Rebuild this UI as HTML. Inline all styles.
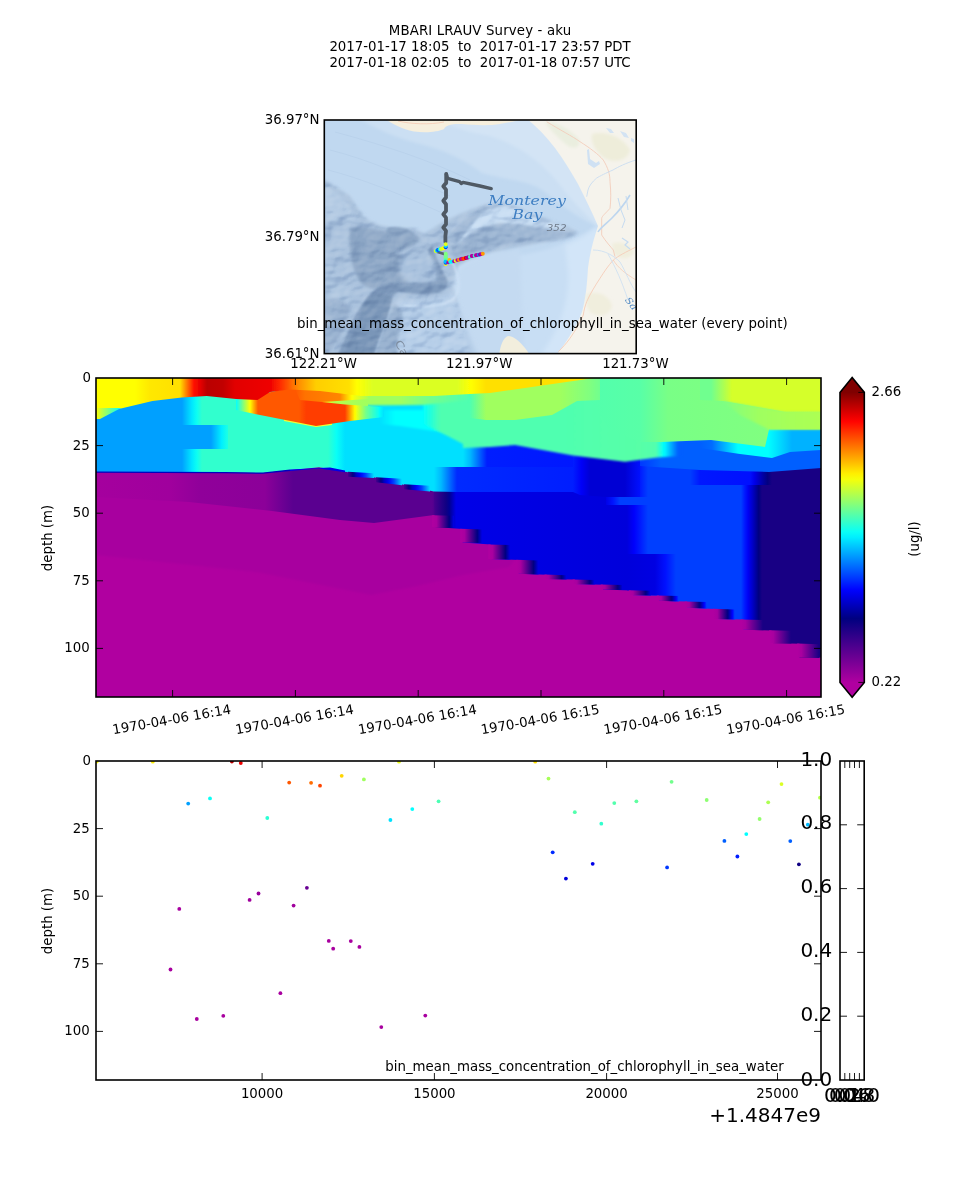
<!DOCTYPE html>
<html><head><meta charset="utf-8"><title>MBARI LRAUV Survey - aku</title>
<style>
html,body{margin:0;padding:0;background:#fff;overflow:hidden;}
svg{display:block;}
text{font-family:'DejaVu Sans','Liberation Sans',sans-serif;fill:#000;opacity:0.999;}
</style></head>
<body>
<svg width="960" height="1200" viewBox="0 0 960 1200">
<rect width="960" height="1200" fill="#ffffff"/>
<text x="480" y="35" font-size="13.33" text-anchor="middle" letter-spacing="0.14">MBARI LRAUV Survey - aku</text>
<text x="480" y="51" font-size="13.33" text-anchor="middle" xml:space="preserve" style="white-space:pre">2017-01-17 18:05  to  2017-01-17 23:57 PDT</text>
<text x="480" y="67" font-size="13.33" text-anchor="middle" xml:space="preserve" style="white-space:pre">2017-01-18 02:05  to  2017-01-18 07:57 UTC</text>
<defs>
<clipPath id="mapclip"><rect x="324.3" y="120.0" width="311.90000000000003" height="233.60000000000002"/></clipPath>
<filter id="b05" x="-30%" y="-30%" width="160%" height="160%"><feGaussianBlur stdDeviation="0.6"/></filter>
<filter id="b1" x="-30%" y="-30%" width="160%" height="160%"><feGaussianBlur stdDeviation="1"/></filter>
<filter id="b15" x="-30%" y="-30%" width="160%" height="160%"><feGaussianBlur stdDeviation="1.5"/></filter>
<filter id="b2" x="-30%" y="-30%" width="160%" height="160%"><feGaussianBlur stdDeviation="2"/></filter>
<filter id="b3" x="-30%" y="-30%" width="160%" height="160%"><feGaussianBlur stdDeviation="3.5"/></filter>
<filter id="b6" x="-30%" y="-30%" width="160%" height="160%"><feGaussianBlur stdDeviation="6"/></filter>
</defs>
<g clip-path="url(#mapclip)">
<rect x="324.3" y="120.0" width="311.90000000000003" height="233.60000000000002" fill="#c0d8f0"/>
<path d="M358,118 C375,128 395,138 420,144 C445,150 465,160 482,173 C505,180 530,180 545,192 C560,204 580,220 598,226 L640,226 L640,118 Z" fill="#cbdff3" filter="url(#b15)"/>
<path d="M440,118 C450,128 470,132 490,136 C520,145 545,165 560,185 C575,205 590,218 598,226 L640,226 L640,118 Z" fill="#d3e4f5" filter="url(#b15)"/>
<path d="M452,262 C470,258 500,256 520,255 C545,252 570,243 598,226 L640,226 L640,356 L452,356 Z" fill="#c8def4" filter="url(#b15)"/>
<path d="M565,245 C580,240 590,232 598,226 L600,356 L540,356 C560,330 570,300 568,270 Z" fill="#d2e5f8" filter="url(#b2)"/>
<mask id="termask" maskUnits="userSpaceOnUse" x="320" y="116" width="320" height="242"><path d="M322,179 L336,187 L349,195 L356,205 L362.3,215 L370,221 L379,225 L395.7,228.3 L414,228.3 L424,233.3 L430.7,230 L440.7,223.3 L457.3,215 L474,208.3 L490,203 L505,203 L520,208 L536,216 L552,222 L566,226 L578,232 L570,238 L556,241 L540,243 L520,247 L500,251 L484,255 L470,260 L458,266 L455,290 L462,320 L470,356 L322,356 Z" fill="#fff" filter="url(#b2)"/><path d="M452,262 L640,262 L640,356 L476,356 Z" fill="#000" filter="url(#b3)"/></mask>
<path d="M322,179 L336,187 L349,195 L356,205 L362.3,215 L370,221 L379,225 L395.7,228.3 L414,228.3 L424,233.3 L430.7,230 L440.7,223.3 L457.3,215 L474,208.3 L490,203 L505,203 L520,208 L536,216 L552,222 L566,226 L578,232 L570,238 L556,241 L540,243 L520,247 L500,251 L484,255 L470,260 L458,266 L455,290 L462,320 L470,356 L322,356 Z" fill="#aac2dd" filter="url(#b15)"/>
<path d="M452,284 C456,270 466,262 480,257 C492,254 505,252 520,249 L524,356 L476,356 C470,330 458,305 452,284 Z" fill="#c4daf1" filter="url(#b2)"/>
<path d="M398,300 C420,300 440,300 454,290 C460,312 470,335 478,356 L366,356 C376,338 386,318 398,300 Z" fill="#b6cee8" filter="url(#b2)"/>
<path d="M324,184 C338,192 350,204 356,218 C350,226 336,224 324,218 Z" fill="#b3cae3" filter="url(#b15)"/>
<path d="M324,262 C336,266 346,276 352,290 C352,310 340,326 324,336 Z" fill="#adc5df" filter="url(#b2)"/>
<path d="M350,228 C362,226 378,230 392,232 C402,230 414,232 420,238 C416,246 404,250 394,252 C402,256 412,258 416,264 C414,276 406,286 396,290 C384,292 372,290 362,284 C352,272 348,250 350,228 Z" fill="#8ca6c5" filter="url(#b15)"/>
<path d="M388,228 C398,226 410,228 414,234 C410,244 398,250 388,248 C384,242 384,234 388,228 Z" fill="#8ca6c5" filter="url(#b1)"/>
<path d="M450,252 C462,238 480,226 500,222 C520,222 540,228 560,231 C566,232 572,232 576,233 C560,240 540,241 520,243 C500,246 480,250 466,256 C458,260 452,258 450,252 Z" fill="#9db6d3" filter="url(#b15)"/>
<path d="M447,240 C452,232 462,224 474,218 C468,230 460,244 454,252 Z" fill="#9ab3d0" filter="url(#b1)"/>
<path d="M449,244 L458,232 L470,224 L487,210 L505,206 L520,210 L536,217 L552,223 L566,227 L560,229 L540,227 L520,224 L500,223 L484,226 L470,233 L458,243 Z" fill="#c9def3" filter="url(#b15)"/>
<path d="M446,240 C452,230 464,220 487,204 C478,218 466,232 456,246 Z" fill="#9fb8d5" filter="url(#b1)"/>
<path d="M432,246 C436,256 440,268 447,279 C449,285 446,290 440,292 C428,296 412,294 399,292 C394,294 392,298 389,303 C386,316 382,330 378,342 C376,350 374,354 374,358 L336,358 C342,346 348,332 354,318 C362,304 370,290 384,284 C400,280 420,284 436,280 C434,270 430,258 428,250 Z" fill="#839ebf" filter="url(#b1)"/>
<path d="M367,298 C375,292 386,292 392,298 C390,312 384,328 378,342 L372,358 L342,358 C350,340 360,316 367,298 Z" fill="#7a96b8" filter="url(#b1)"/>
<path d="M374,358 C378,340 386,320 394,304 C400,306 404,312 402,322 C398,336 396,348 398,358 Z" fill="#9ab3d0" filter="url(#b15)"/>
<path d="M404,256 C414,250 426,252 432,258 C437,264 440,272 436,280 C428,284 418,280 410,282 C402,280 398,272 400,266 C399,262 400,258 404,256 Z" fill="#a8c1dd" filter="url(#b2)"/>
<path d="M324,300 C336,296 346,300 350,310 C346,328 336,344 326,356 L324,356 Z" fill="#9bb4d1" filter="url(#b15)"/>
<path d="M452,262 C460,276 462,292 452,300 C440,308 420,306 404,306" fill="none" stroke="#cfe2f6" stroke-width="2" filter="url(#b1)" opacity="0.9"/>
<filter id="relief" x="0" y="0" width="100%" height="100%" color-interpolation-filters="sRGB"><feTurbulence type="fractalNoise" baseFrequency="0.035 0.05" numOctaves="3" seed="11" result="n"/><feColorMatrix in="n" type="matrix" values="0 0 0 0 0  0 0 0 0 0  0 0 0 0 0  1 0 0 0 0" result="h"/><feDiffuseLighting in="h" surfaceScale="5" diffuseConstant="1" lighting-color="#ffffff" result="l"><feDistantLight azimuth="225" elevation="42"/></feDiffuseLighting><feColorMatrix in="l" type="matrix" values="0.9 0 0 0 0.42  0 0.72 0 0 0.54  0 0 0.46 0 0.71  0 0 0 1 0"/></filter>
<g mask="url(#termask)" style="mix-blend-mode:multiply;opacity:0.42"><rect x="324.3" y="170" width="280" height="186" filter="url(#relief)"/></g>
<filter id="relief2" x="0" y="0" width="100%" height="100%" color-interpolation-filters="sRGB"><feTurbulence type="fractalNoise" baseFrequency="0.035 0.05" numOctaves="3" seed="11" result="n"/><feColorMatrix in="n" type="matrix" values="0 0 0 0 0  0 0 0 0 0  0 0 0 0 0  1 0 0 0 0" result="h"/><feDiffuseLighting in="h" surfaceScale="5" diffuseConstant="1" lighting-color="#ffffff" result="l"><feDistantLight azimuth="225" elevation="42"/></feDiffuseLighting><feColorMatrix in="l" type="matrix" values="1.6 0 0 0 -1.1  0 1.6 0 0 -1.1  0 0 1.5 0 -1.0  0 0 0 1 0"/></filter>
<g mask="url(#termask)" style="mix-blend-mode:screen;opacity:0.3"><rect x="324.3" y="170" width="280" height="186" filter="url(#relief2)"/></g>
<path d="M384,118 C392,124 402,129 414,131.5 C426,133 438,132 444,129 C446,125 452,123.5 462,124 C474,125 488,126 500,124 C512,122 520,120 528,118 Z" fill="#f6efdd" filter="url(#b05)"/>
<path d="M398,121 C410,124 430,125 444,122" fill="none" stroke="#f5c9b3" stroke-width="0.8"/>
<path d="M526,118 C536,126 546,136 555,148 C564,160 571,172 578,184 C585,198 592,212 598,226 C594,238 590,252 588,268 C587,284 586,298 582,312 C576,328 566,342 556,356 L640,356 L640,118 Z" fill="#f5f3ec" filter="url(#b05)"/>
<path d="M545,122 C556,122 568,128 578,138 C582,146 576,150 568,146 C558,138 550,130 545,122 Z" fill="#eaeedf" filter="url(#b15)"/>
<path d="M592,134 C606,130 624,138 630,150 C628,160 616,164 604,158 C596,152 590,142 592,134 Z" fill="#eeedda" filter="url(#b15)"/>
<path d="M587,294 C598,290 610,296 612,306 C610,316 598,318 590,312 C586,306 585,300 587,294 Z" fill="#f0eedd" filter="url(#b15)"/>
<path d="M612,244 C620,240 630,244 634,252 C630,260 620,260 614,254 Z" fill="#f0eedd" filter="url(#b15)"/>
<path d="M587,150 l2,-1 l1,10 l6,4 l3,-2 l1,3 l-6,4 l-6,-4 z" fill="#cfe1f3" filter="url(#b05)"/>
<path d="M606,128 l5,1 l3,4 l-4,0 z M620,131 l6,2 l3,5 l-5,-1 z M631,138 l3,1 l0,4 l-3,-2 z" fill="#d3e3f3" filter="url(#b05)"/>
<path d="M499,356 C500,346 503,338 508,336 C514,336 520,342 525,348 C528,352 530,355 531,356 Z" fill="#f2eedd" filter="url(#b05)"/>
<path d="M546.7,121.7 C560,130 572,136 580,141.7 C590,148 598,154 603.3,160 C608,168 610,174 610,181.7 C611,192 611,200 610,208.3 C606,213 602,216 601.7,218.3 L601.7,235 C606,242 611,247 613.3,250 L615,256.7" fill="none" stroke="#f3cdbb" stroke-width="0.9"/>
<path d="M636,247 C626,252 618,256 613.3,260 C608,266 604,272 600,278.3 C595,286 590,294 586.7,301.7 C585,306 584,310 583.3,315 C580,323 575,331 570,338.3 C566,344 562,348 558.3,351.7" fill="none" stroke="#f5cdb9" stroke-width="0.9"/>
<path d="M613.3,260 C618,268 626,274 636,280" fill="none" stroke="#f5cdb9" stroke-width="0.8"/>
<path d="M636,160 C626,163 618,167 613,170 C606,173 600,176 596.7,178 C592,182 589,186 588,190 L586.7,196.7" fill="none" stroke="#c9dcf0" stroke-width="0.9"/>
<path d="M630,195 C624,205 620,210 612,218 C606,224 600,228 598,232" fill="none" stroke="#bdd6ef" stroke-width="1.6"/>
<path d="M618,198 l3,12 l4,10 l-3,8 M626,196 l2,14" fill="none" stroke="#c5dbf1" stroke-width="1"/>
<path d="M593,250 C605,250 614,256 620,262 C626,272 630,284 636,292 M608,254 C616,268 622,282 628,300" fill="none" stroke="#cadef2" stroke-width="0.8"/>
<path d="M622,238 l6,4 l-3,3 l5,4" fill="none" stroke="#c5dbf1" stroke-width="1.2"/>
<path d="M330,150 C370,160 410,178 450,196 M335,132 C380,144 430,160 470,180 M328,170 C360,178 400,194 440,212" fill="none" stroke="#b4cde8" stroke-width="0.8" opacity="0.7"/>
<text transform="translate(527 204.8) scale(1.26 1)" x="0" y="0" font-size="12.6" text-anchor="middle" style="font-family:'DejaVu Serif','Liberation Serif',serif;font-style:italic;fill:#2f74bd;opacity:0.9">Monterey</text>
<text transform="translate(527.4 218.9) scale(1.26 1)" x="0" y="0" font-size="12.6" text-anchor="middle" style="font-family:'DejaVu Serif','Liberation Serif',serif;font-style:italic;fill:#2f74bd;opacity:0.9">Bay</text>
<text transform="translate(556.6 231.4) scale(1.3 1)" x="0" y="0" font-size="8" text-anchor="middle" style="font-family:'DejaVu Sans',sans-serif;font-style:italic;fill:#66707e;opacity:0.9">352</text>
<text transform="translate(394.5 342.5) rotate(62) scale(1.25 1)" x="0" y="0" font-size="10.5" style="font-family:'DejaVu Sans',sans-serif;fill:#7b899b;opacity:0.9">Ca</text>
<text transform="translate(624.5 300) rotate(52) scale(1.2 1)" x="0" y="0" font-size="9" style="font-family:'DejaVu Serif','Liberation Serif',serif;font-style:italic;fill:#2f74bd;opacity:0.8">Sa</text>
<path d="M446.2,174 L446.2,183 L446,183.0 L443.3,186.2 L446,189.6 L446,197.60000000000002 L443.3,200.8 L446,204.20000000000002 L446,211.0 L443.3,214.2 L446,217.6 L446,224.3 L443.3,227.5 L446,230.9 L445.4,236 L445.4,242" fill="none" stroke="#4f5964" stroke-width="3.8" stroke-linejoin="round" stroke-linecap="round"/>
<path d="M446.4,174.2 L447.6,178.4 L459.5,181.6 L461.2,183.4 L463,182.4 L480,186 L491.2,188.6" fill="none" stroke="#4f5964" stroke-width="3.4" stroke-linejoin="round" stroke-linecap="round"/>
<path d="M437,251.8 L444,254" fill="none" stroke="#5a6470" stroke-width="2.6" stroke-linecap="round"/>
<circle cx="435.7" cy="251.1" r="1.95" fill="#d8ff28"/>
<circle cx="437.0" cy="250.5" r="1.95" fill="#00d0ff"/>
<circle cx="438.0" cy="250.0" r="1.95" fill="#0050ff"/>
<circle cx="439.7" cy="249.3" r="1.95" fill="#00f0ff"/>
<circle cx="441.0" cy="249.0" r="1.95" fill="#d0ff30"/>
<circle cx="443.0" cy="248.4" r="1.95" fill="#f0ff10"/>
<circle cx="444.0" cy="248.0" r="1.95" fill="#ffff00"/>
<circle cx="445.7" cy="247.2" r="1.95" fill="#0040ff"/>
<circle cx="445.7" cy="246.1" r="1.95" fill="#00e0ff"/>
<circle cx="445.7" cy="244.3" r="1.95" fill="#e0ff20"/>
<circle cx="445.7" cy="253.7" r="1.95" fill="#80ff80"/>
<circle cx="445.7" cy="254.9" r="1.95" fill="#80ff80"/>
<circle cx="445.7" cy="256.0" r="1.95" fill="#80ff80"/>
<circle cx="445.7" cy="257.2" r="1.95" fill="#70ff90"/>
<circle cx="445.7" cy="258.3" r="1.95" fill="#80ff80"/>
<circle cx="445.7" cy="259.5" r="1.95" fill="#60ffa0"/>
<circle cx="445.7" cy="260.7" r="1.95" fill="#40ffc0"/>
<circle cx="445.7" cy="264.0" r="1.95" fill="#ffff00"/>
<circle cx="445.7" cy="262.7" r="1.95" fill="#0030ff"/>
<circle cx="445.5" cy="261.7" r="1.95" fill="#00c0ff"/>
<circle cx="448.3" cy="262.3" r="1.95" fill="#b000a0"/>
<circle cx="449.3" cy="260.0" r="1.95" fill="#ffc000"/>
<circle cx="450.3" cy="261.9" r="1.95" fill="#00ffff"/>
<circle cx="452.3" cy="261.6" r="1.95" fill="#00f0ff"/>
<circle cx="454.1" cy="261.2" r="1.95" fill="#b000a0"/>
<circle cx="455.7" cy="260.7" r="1.95" fill="#e8ff18"/>
<circle cx="457.3" cy="260.1" r="1.95" fill="#b000a0"/>
<circle cx="459.0" cy="259.7" r="1.95" fill="#ff9000"/>
<circle cx="460.7" cy="259.1" r="1.95" fill="#b000a0"/>
<circle cx="462.0" cy="258.8" r="1.95" fill="#c000a0"/>
<circle cx="463.2" cy="258.7" r="1.95" fill="#ff3000"/>
<circle cx="464.5" cy="258.4" r="1.95" fill="#ff4800"/>
<circle cx="465.7" cy="258.0" r="1.95" fill="#e00000"/>
<circle cx="467.0" cy="257.7" r="1.95" fill="#b000a0"/>
<circle cx="468.3" cy="257.3" r="1.95" fill="#a000a0"/>
<circle cx="469.8" cy="256.9" r="1.95" fill="#40ffc0"/>
<circle cx="471.7" cy="256.0" r="1.95" fill="#b000a0"/>
<circle cx="473.0" cy="255.9" r="1.95" fill="#b000a0"/>
<circle cx="474.7" cy="255.7" r="1.95" fill="#40ffd0"/>
<circle cx="475.9" cy="255.3" r="1.95" fill="#b000a0"/>
<circle cx="477.2" cy="255.0" r="1.95" fill="#b000a0"/>
<circle cx="479.0" cy="254.7" r="1.95" fill="#00a0ff"/>
<circle cx="480.0" cy="254.4" r="1.95" fill="#8000a0"/>
<circle cx="481.1" cy="254.1" r="1.95" fill="#b000a0"/>
<circle cx="482.8" cy="253.7" r="1.95" fill="#ff9800"/>
</g>
<rect x="324.3" y="120.0" width="311.90000000000003" height="233.60000000000002" fill="none" stroke="#000" stroke-width="1.6"/>
<text x="319.5" y="124" font-size="13.33" text-anchor="end" >36.97°N</text>
<text x="319.5" y="241" font-size="13.33" text-anchor="end" >36.79°N</text>
<text x="319.5" y="358" font-size="13.33" text-anchor="end" >36.61°N</text>
<text x="323.6" y="368" font-size="13.33" text-anchor="middle" >122.21°W</text>
<text x="479.2" y="368" font-size="13.33" text-anchor="middle" >121.97°W</text>
<text x="635.4" y="368" font-size="13.33" text-anchor="middle" >121.73°W</text>
<text x="297" y="328" font-size="13.33" text-anchor="start" letter-spacing="0.025">bin_mean_mass_concentration_of_chlorophyll_in_sea_water (every point)</text>
<clipPath id="cclip"><rect x="96.0" y="378.0" width="725.0" height="319.0"/></clipPath>
<g clip-path="url(#cclip)">
<rect x="96.0" y="378.0" width="725.0" height="319.0" fill="#b000a0"/>
<path d="M96.0,472.0 L470.0,472.0 L520.0,553.0 L509.0,567.0 L463.0,575.0 L417.0,586.0 L371.0,595.0 L256.0,572.0 L96.0,555.0 Z" fill="#a8009f" filter="url(#b1)" />
<linearGradient id="g1" gradientUnits="userSpaceOnUse" x1="96" y1="0" x2="447" y2="0"><stop offset="0.0000" stop-color="#a5009e"/><stop offset="0.2108" stop-color="#a0009d"/><stop offset="0.2963" stop-color="#90009a"/><stop offset="0.4815" stop-color="#8c0099"/><stop offset="0.5214" stop-color="#730095"/><stop offset="0.5613" stop-color="#5a0090"/><stop offset="0.9573" stop-color="#5a0090"/><stop offset="0.9715" stop-color="#41008c"/><stop offset="0.9858" stop-color="#290087"/><stop offset="1" stop-color="#100083"/></linearGradient>
<path d="M96.0,472.0 L263.0,473.0 L319.0,467.3 L352.5,473.0 L373.0,477.0 L398.0,483.5 L431.7,491.0 L447.0,494.0 L447.0,518.0 L434.0,515.0 L374.0,523.0 L340.0,520.0 L272.0,511.0 L189.0,502.0 L96.0,497.0 Z" fill="url(#g1)" />
<linearGradient id="g2" gradientUnits="userSpaceOnUse" x1="432" y1="0" x2="821.5" y2="0"><stop offset="0.0000" stop-color="#50008f"/><stop offset="0.0120" stop-color="#3b008b"/><stop offset="0.0240" stop-color="#250087"/><stop offset="0.0359" stop-color="#100083"/><stop offset="0.0445" stop-color="#000091"/><stop offset="0.0531" stop-color="#0000bd"/><stop offset="0.0616" stop-color="#0000e8"/><stop offset="0.5006" stop-color="#0000db"/><stop offset="0.5186" stop-color="#0000fc"/><stop offset="0.5366" stop-color="#001eff"/><stop offset="0.5546" stop-color="#003fff"/><stop offset="0.7933" stop-color="#003fff"/><stop offset="0.8027" stop-color="#001aff"/><stop offset="0.8122" stop-color="#0000f3"/><stop offset="0.8216" stop-color="#0000ce"/><stop offset="0.8301" stop-color="#0000a7"/><stop offset="0.8387" stop-color="#000080"/><stop offset="0.8472" stop-color="#180084"/><stop offset="1" stop-color="#180084"/></linearGradient>
<path d="M432.0,425.0 L821.5,425.0 L821.5,657.4 L799.5,657.4 L799.5,643.8 L771.5,643.0 L771.5,630.4 L743.4,629.7 L743.4,619.6 L715.3,619.0 L715.3,609.0 L687.2,607.8 L687.2,601.6 L659.1,600.8 L659.1,595.6 L631.1,595.0 L631.1,590.4 L603.0,589.5 L603.0,584.7 L574.9,584.0 L574.9,579.6 L546.8,579.0 L546.8,574.8 L518.7,573.8 L518.7,560.0 L490.7,559.0 L490.7,544.6 L462.6,542.5 L462.6,529.0 L434.5,527.0 L434.5,515.4 Z" fill="url(#g2)" />
<linearGradient id="g3" gradientUnits="userSpaceOnUse" x1="463" y1="0" x2="580" y2="0"><stop offset="0.0000" stop-color="#00e0ff"/><stop offset="0.0598" stop-color="#00baff"/><stop offset="0.0962" stop-color="#0093ff"/><stop offset="0.1325" stop-color="#006cff"/><stop offset="0.1688" stop-color="#0045ff"/><stop offset="0.2051" stop-color="#001dff"/><stop offset="1" stop-color="#0017ff"/></linearGradient>
<path d="M463.0,440.0 L580.0,440.0 L580.0,467.0 L463.0,467.0 Z" fill="url(#g3)" />
<linearGradient id="g4" gradientUnits="userSpaceOnUse" x1="434" y1="0" x2="580" y2="0"><stop offset="0.0000" stop-color="#00e0ff"/><stop offset="0.0479" stop-color="#00baff"/><stop offset="0.0753" stop-color="#0096ff"/><stop offset="0.1027" stop-color="#0072ff"/><stop offset="0.1301" stop-color="#004eff"/><stop offset="0.1575" stop-color="#002aff"/><stop offset="1" stop-color="#001dff"/></linearGradient>
<path d="M434.0,467.0 L580.0,467.0 L580.0,492.0 L457.0,492.0 L434.0,491.5 Z" fill="url(#g4)" />
<linearGradient id="g5" gradientUnits="userSpaceOnUse" x1="573" y1="0" x2="640" y2="0"><stop offset="0.0000" stop-color="#001dff"/><stop offset="0.1269" stop-color="#0000f8"/><stop offset="0.2537" stop-color="#0000d4"/><stop offset="0.7761" stop-color="#0000d4"/><stop offset="1" stop-color="#0010ff"/></linearGradient>
<path d="M573.0,440.0 L640.0,440.0 L640.0,497.0 L606.0,497.0 L580.0,495.0 L573.0,492.0 Z" fill="url(#g5)" />
<linearGradient id="g6" gradientUnits="userSpaceOnUse" x1="627" y1="0" x2="676" y2="0"><stop offset="0.0000" stop-color="#0000db"/><stop offset="0.5714" stop-color="#0000e2"/><stop offset="0.7857" stop-color="#0011ff"/><stop offset="1" stop-color="#003fff"/></linearGradient>
<path d="M627.0,554.0 L676.0,554.0 L676.0,601.2 L659.1,600.8 L659.1,595.6 L631.1,595.0 L631.1,590.4 L627.0,590.3 Z" fill="url(#g6)" />
<linearGradient id="g7" gradientUnits="userSpaceOnUse" x1="690" y1="0" x2="790" y2="0"><stop offset="0.0000" stop-color="#003fff"/><stop offset="0.1000" stop-color="#0017ff"/><stop offset="0.6000" stop-color="#0010ff"/><stop offset="0.6440" stop-color="#0000eb"/><stop offset="0.6880" stop-color="#0000c6"/><stop offset="0.7320" stop-color="#0000a2"/><stop offset="0.7760" stop-color="#020080"/><stop offset="0.8200" stop-color="#180084"/><stop offset="1" stop-color="#180084"/></linearGradient>
<path d="M690.0,466.0 L790.0,466.0 L790.0,485.0 L690.0,485.0 Z" fill="url(#g7)" />
<linearGradient id="g8" gradientUnits="userSpaceOnUse" x1="606" y1="0" x2="684" y2="0"><stop offset="0.0000" stop-color="#0000e8"/><stop offset="0.0897" stop-color="#0014ff"/><stop offset="0.1795" stop-color="#003fff"/><stop offset="1" stop-color="#003fff"/></linearGradient>
<path d="M606.0,497.0 L684.0,497.0 L684.0,505.0 L606.0,505.0 Z" fill="url(#g8)" />
<linearGradient id="g9" gradientUnits="userSpaceOnUse" x1="640" y1="0" x2="821" y2="0"><stop offset="0.0000" stop-color="#0038ff"/><stop offset="0.1160" stop-color="#005fff"/><stop offset="1" stop-color="#005fff"/></linearGradient>
<path d="M640.0,425.0 L821.0,425.0 L821.0,468.0 L769.0,472.0 L700.0,470.0 L640.0,466.0 Z" fill="url(#g9)" />
<linearGradient id="g10" gradientUnits="userSpaceOnUse" x1="700" y1="0" x2="821" y2="0"><stop offset="0.0000" stop-color="#005fff"/><stop offset="0.0992" stop-color="#006cff"/><stop offset="0.1529" stop-color="#0091ff"/><stop offset="0.2066" stop-color="#00b5ff"/><stop offset="0.2603" stop-color="#00daff"/><stop offset="0.3140" stop-color="#00ffff"/><stop offset="0.5620" stop-color="#00ffff"/><stop offset="0.6612" stop-color="#00d9ff"/><stop offset="0.7603" stop-color="#00b2ff"/><stop offset="1" stop-color="#00b2ff"/></linearGradient>
<path d="M700.0,425.0 L821.0,425.0 L821.0,450.0 L790.0,452.0 L772.0,458.0 L740.0,454.0 L713.0,450.0 L700.0,448.0 Z" fill="url(#g10)" />
<linearGradient id="g11" gradientUnits="userSpaceOnUse" x1="432.5" y1="0" x2="454.0" y2="0"><stop offset="0.0000" stop-color="#b000a0"/><stop offset="0.1860" stop-color="#a8009f"/><stop offset="0.2600" stop-color="#93009b"/><stop offset="0.3340" stop-color="#7e0097"/><stop offset="0.4080" stop-color="#690093"/><stop offset="0.4820" stop-color="#54008f"/><stop offset="0.5560" stop-color="#3f008b"/><stop offset="0.6300" stop-color="#290088"/><stop offset="0.7040" stop-color="#140084"/><stop offset="0.7780" stop-color="#000081"/><stop offset="0.8520" stop-color="#0000a3"/><stop offset="0.9260" stop-color="#0000c6"/><stop offset="1" stop-color="#0000e8"/></linearGradient>
<path d="M432.2,515.2 L454.0,515.8 L454.4,527.6 L432.2,527.0 Z" fill="url(#g11)" />
<linearGradient id="g12" gradientUnits="userSpaceOnUse" x1="460.58" y1="0" x2="482.08" y2="0"><stop offset="0.0000" stop-color="#b000a0"/><stop offset="0.1860" stop-color="#a8009f"/><stop offset="0.2600" stop-color="#93009b"/><stop offset="0.3340" stop-color="#7e0097"/><stop offset="0.4080" stop-color="#690093"/><stop offset="0.4820" stop-color="#54008f"/><stop offset="0.5560" stop-color="#3f008b"/><stop offset="0.6300" stop-color="#2a0088"/><stop offset="0.7040" stop-color="#150084"/><stop offset="0.7780" stop-color="#000080"/><stop offset="0.8520" stop-color="#0000a2"/><stop offset="0.9260" stop-color="#0000c4"/><stop offset="1" stop-color="#0000e6"/></linearGradient>
<path d="M460.3,528.8 L482.1,529.4 L482.5,543.1 L460.3,542.5 Z" fill="url(#g12)" />
<linearGradient id="g13" gradientUnits="userSpaceOnUse" x1="488.65999999999997" y1="0" x2="510.15999999999997" y2="0"><stop offset="0.0000" stop-color="#b000a0"/><stop offset="0.1860" stop-color="#a8009f"/><stop offset="0.2600" stop-color="#93009b"/><stop offset="0.3340" stop-color="#7e0097"/><stop offset="0.4080" stop-color="#690093"/><stop offset="0.4820" stop-color="#55008f"/><stop offset="0.5560" stop-color="#40008c"/><stop offset="0.6300" stop-color="#2b0088"/><stop offset="0.7040" stop-color="#160084"/><stop offset="0.7780" stop-color="#010080"/><stop offset="0.8520" stop-color="#0000a0"/><stop offset="0.9260" stop-color="#0000c2"/><stop offset="1" stop-color="#0000e4"/></linearGradient>
<path d="M488.4,544.4 L510.2,545.0 L510.6,559.6 L488.4,559.0 Z" fill="url(#g13)" />
<linearGradient id="g14" gradientUnits="userSpaceOnUse" x1="516.74" y1="0" x2="538.24" y2="0"><stop offset="0.0000" stop-color="#b000a0"/><stop offset="0.1860" stop-color="#a8009f"/><stop offset="0.2600" stop-color="#93009b"/><stop offset="0.3340" stop-color="#7f0097"/><stop offset="0.4080" stop-color="#6a0093"/><stop offset="0.4820" stop-color="#55008f"/><stop offset="0.5560" stop-color="#40008c"/><stop offset="0.6300" stop-color="#2c0088"/><stop offset="0.7040" stop-color="#170084"/><stop offset="0.7780" stop-color="#020080"/><stop offset="0.8520" stop-color="#00009e"/><stop offset="0.9260" stop-color="#0000c0"/><stop offset="1" stop-color="#0000e2"/></linearGradient>
<path d="M516.4,559.8 L538.2,560.4 L538.6,574.4 L516.4,573.8 Z" fill="url(#g14)" />
<linearGradient id="g15" gradientUnits="userSpaceOnUse" x1="544.8199999999999" y1="0" x2="566.3199999999999" y2="0"><stop offset="0.0000" stop-color="#b000a0"/><stop offset="0.1860" stop-color="#a8009f"/><stop offset="0.2600" stop-color="#93009b"/><stop offset="0.3340" stop-color="#7f0097"/><stop offset="0.4080" stop-color="#6a0093"/><stop offset="0.4820" stop-color="#560090"/><stop offset="0.5560" stop-color="#41008c"/><stop offset="0.6300" stop-color="#2c0088"/><stop offset="0.7040" stop-color="#180084"/><stop offset="0.7780" stop-color="#030081"/><stop offset="0.8520" stop-color="#00009c"/><stop offset="0.9260" stop-color="#0000be"/><stop offset="1" stop-color="#0000e0"/></linearGradient>
<path d="M544.5,574.6 L566.3,575.2 L566.7,579.6 L544.5,579.0 Z" fill="url(#g15)" />
<linearGradient id="g16" gradientUnits="userSpaceOnUse" x1="572.9" y1="0" x2="594.4" y2="0"><stop offset="0.0000" stop-color="#b000a0"/><stop offset="0.1860" stop-color="#a8009f"/><stop offset="0.2600" stop-color="#93009b"/><stop offset="0.3340" stop-color="#7f0097"/><stop offset="0.4080" stop-color="#6a0093"/><stop offset="0.4820" stop-color="#560090"/><stop offset="0.5560" stop-color="#41008c"/><stop offset="0.6300" stop-color="#2d0088"/><stop offset="0.7040" stop-color="#180084"/><stop offset="0.7780" stop-color="#040081"/><stop offset="0.8520" stop-color="#00009b"/><stop offset="0.9260" stop-color="#0000bc"/><stop offset="1" stop-color="#0000de"/></linearGradient>
<path d="M572.6,579.4 L594.4,580.0 L594.8,584.6 L572.6,584.0 Z" fill="url(#g16)" />
<linearGradient id="g17" gradientUnits="userSpaceOnUse" x1="600.98" y1="0" x2="622.48" y2="0"><stop offset="0.0000" stop-color="#b000a0"/><stop offset="0.1860" stop-color="#a8009f"/><stop offset="0.2600" stop-color="#94009b"/><stop offset="0.3340" stop-color="#7f0097"/><stop offset="0.4080" stop-color="#6b0093"/><stop offset="0.4820" stop-color="#560090"/><stop offset="0.5560" stop-color="#42008c"/><stop offset="0.6300" stop-color="#2e0088"/><stop offset="0.7040" stop-color="#190085"/><stop offset="0.7780" stop-color="#050081"/><stop offset="0.8520" stop-color="#000099"/><stop offset="0.9260" stop-color="#0000ba"/><stop offset="1" stop-color="#0000db"/></linearGradient>
<path d="M600.7,584.5 L622.5,585.1 L622.9,590.1 L600.7,589.5 Z" fill="url(#g17)" />
<linearGradient id="g18" gradientUnits="userSpaceOnUse" x1="629.06" y1="0" x2="650.56" y2="0"><stop offset="0.0000" stop-color="#b000a0"/><stop offset="0.1860" stop-color="#a8009f"/><stop offset="0.2600" stop-color="#93009b"/><stop offset="0.3340" stop-color="#7f0097"/><stop offset="0.4080" stop-color="#6a0093"/><stop offset="0.4820" stop-color="#55008f"/><stop offset="0.5560" stop-color="#40008c"/><stop offset="0.6300" stop-color="#2c0088"/><stop offset="0.7040" stop-color="#170084"/><stop offset="0.7780" stop-color="#020080"/><stop offset="0.8520" stop-color="#00009e"/><stop offset="0.9260" stop-color="#0000c0"/><stop offset="1" stop-color="#0000e2"/></linearGradient>
<path d="M628.8,590.2 L650.6,590.8 L651.0,595.6 L628.8,595.0 Z" fill="url(#g18)" />
<linearGradient id="g19" gradientUnits="userSpaceOnUse" x1="657.14" y1="0" x2="678.64" y2="0"><stop offset="0.0000" stop-color="#b000a0"/><stop offset="0.1860" stop-color="#a8009f"/><stop offset="0.2442" stop-color="#94009b"/><stop offset="0.3023" stop-color="#7f0097"/><stop offset="0.3605" stop-color="#6b0093"/><stop offset="0.4186" stop-color="#570090"/><stop offset="0.4767" stop-color="#42008c"/><stop offset="0.5349" stop-color="#2e0088"/><stop offset="0.5930" stop-color="#1a0085"/><stop offset="0.6512" stop-color="#050081"/><stop offset="0.7093" stop-color="#000098"/><stop offset="0.7674" stop-color="#0000b9"/><stop offset="0.8256" stop-color="#0000db"/><stop offset="0.8837" stop-color="#0000fc"/><stop offset="0.9419" stop-color="#001eff"/><stop offset="1" stop-color="#003fff"/></linearGradient>
<path d="M656.8,595.4 L678.6,596.0 L679.0,601.4 L656.8,600.8 Z" fill="url(#g19)" />
<linearGradient id="g20" gradientUnits="userSpaceOnUse" x1="685.22" y1="0" x2="706.72" y2="0"><stop offset="0.0000" stop-color="#b000a0"/><stop offset="0.1860" stop-color="#a8009f"/><stop offset="0.2442" stop-color="#94009b"/><stop offset="0.3023" stop-color="#7f0097"/><stop offset="0.3605" stop-color="#6b0093"/><stop offset="0.4186" stop-color="#570090"/><stop offset="0.4767" stop-color="#42008c"/><stop offset="0.5349" stop-color="#2e0088"/><stop offset="0.5930" stop-color="#1a0085"/><stop offset="0.6512" stop-color="#050081"/><stop offset="0.7093" stop-color="#000098"/><stop offset="0.7674" stop-color="#0000b9"/><stop offset="0.8256" stop-color="#0000db"/><stop offset="0.8837" stop-color="#0000fc"/><stop offset="0.9419" stop-color="#001eff"/><stop offset="1" stop-color="#003fff"/></linearGradient>
<path d="M684.9,601.4 L706.7,602.0 L707.1,608.4 L684.9,607.8 Z" fill="url(#g20)" />
<linearGradient id="g21" gradientUnits="userSpaceOnUse" x1="713.3" y1="0" x2="734.8" y2="0"><stop offset="0.0000" stop-color="#b000a0"/><stop offset="0.1860" stop-color="#a8009f"/><stop offset="0.2442" stop-color="#94009b"/><stop offset="0.3023" stop-color="#7f0097"/><stop offset="0.3605" stop-color="#6b0093"/><stop offset="0.4186" stop-color="#570090"/><stop offset="0.4767" stop-color="#42008c"/><stop offset="0.5349" stop-color="#2e0088"/><stop offset="0.5930" stop-color="#1a0085"/><stop offset="0.6512" stop-color="#050081"/><stop offset="0.7093" stop-color="#000098"/><stop offset="0.7674" stop-color="#0000b9"/><stop offset="0.8256" stop-color="#0000db"/><stop offset="0.8837" stop-color="#0000fc"/><stop offset="0.9419" stop-color="#001eff"/><stop offset="1" stop-color="#003fff"/></linearGradient>
<path d="M713.0,608.8 L734.8,609.4 L735.2,619.6 L713.0,619.0 Z" fill="url(#g21)" />
<linearGradient id="g22" gradientUnits="userSpaceOnUse" x1="741.38" y1="0" x2="762.88" y2="0"><stop offset="0.0000" stop-color="#b000a0"/><stop offset="0.1860" stop-color="#a8009f"/><stop offset="0.3023" stop-color="#93009b"/><stop offset="0.4186" stop-color="#7f0097"/><stop offset="0.5349" stop-color="#6a0093"/><stop offset="0.6512" stop-color="#560090"/><stop offset="0.7674" stop-color="#41008c"/><stop offset="0.8837" stop-color="#2d0088"/><stop offset="1" stop-color="#180084"/></linearGradient>
<path d="M741.1,619.4 L762.9,620.0 L763.3,630.3 L741.1,629.7 Z" fill="url(#g22)" />
<linearGradient id="g23" gradientUnits="userSpaceOnUse" x1="769.46" y1="0" x2="790.96" y2="0"><stop offset="0.0000" stop-color="#b000a0"/><stop offset="0.1860" stop-color="#a8009f"/><stop offset="0.3023" stop-color="#93009b"/><stop offset="0.4186" stop-color="#7f0097"/><stop offset="0.5349" stop-color="#6a0093"/><stop offset="0.6512" stop-color="#560090"/><stop offset="0.7674" stop-color="#41008c"/><stop offset="0.8837" stop-color="#2d0088"/><stop offset="1" stop-color="#180084"/></linearGradient>
<path d="M769.2,630.2 L791.0,630.8 L791.4,643.6 L769.2,643.0 Z" fill="url(#g23)" />
<linearGradient id="g24" gradientUnits="userSpaceOnUse" x1="797.54" y1="0" x2="819.04" y2="0"><stop offset="0.0000" stop-color="#b000a0"/><stop offset="0.1860" stop-color="#a8009f"/><stop offset="0.3023" stop-color="#93009b"/><stop offset="0.4186" stop-color="#7f0097"/><stop offset="0.5349" stop-color="#6a0093"/><stop offset="0.6512" stop-color="#560090"/><stop offset="0.7674" stop-color="#41008c"/><stop offset="0.8837" stop-color="#2d0088"/><stop offset="1" stop-color="#180084"/></linearGradient>
<path d="M797.2,643.6 L819.0,644.2 L819.4,658.0 L797.2,657.4 Z" fill="url(#g24)" />
<linearGradient id="g25" gradientUnits="userSpaceOnUse" x1="96" y1="0" x2="230" y2="0"><stop offset="0.0000" stop-color="#00a0ff"/><stop offset="0.6418" stop-color="#00a0ff"/><stop offset="0.6791" stop-color="#00c4ff"/><stop offset="0.7164" stop-color="#00e8ff"/><stop offset="0.7537" stop-color="#0dfff2"/><stop offset="0.7910" stop-color="#31ffce"/><stop offset="1" stop-color="#31ffce"/></linearGradient>
<path d="M96.0,390.0 L230.0,390.0 L230.0,472.5 L96.0,472.0 Z" fill="url(#g25)" />
<linearGradient id="g26" gradientUnits="userSpaceOnUse" x1="96" y1="0" x2="240" y2="0"><stop offset="0.0000" stop-color="#00a0ff"/><stop offset="0.7986" stop-color="#00a0ff"/><stop offset="0.8356" stop-color="#00c7ff"/><stop offset="0.8727" stop-color="#00efff"/><stop offset="0.9097" stop-color="#17ffe8"/><stop offset="1" stop-color="#31ffce"/></linearGradient>
<path d="M96.0,425.0 L240.0,425.0 L240.0,449.0 L96.0,449.0 Z" fill="url(#g26)" />
<linearGradient id="g27" gradientUnits="userSpaceOnUse" x1="228" y1="0" x2="463" y2="0"><stop offset="0.0000" stop-color="#31ffce"/><stop offset="0.4255" stop-color="#31ffce"/><stop offset="0.4617" stop-color="#09fff6"/><stop offset="0.4979" stop-color="#00e0ff"/><stop offset="1" stop-color="#00e0ff"/></linearGradient>
<path d="M228.0,390.0 L463.0,390.0 L463.0,467.0 L434.0,467.0 L434.0,491.5 L431.7,491.0 L398.0,483.5 L373.0,477.0 L352.5,473.0 L319.0,467.3 L263.0,473.0 L228.0,472.6 Z" fill="url(#g27)" />
<linearGradient id="g28" gradientUnits="userSpaceOnUse" x1="348" y1="0" x2="374" y2="0"><stop offset="0.0000" stop-color="#48008d"/><stop offset="0.0615" stop-color="#320089"/><stop offset="0.1231" stop-color="#1b0085"/><stop offset="0.1846" stop-color="#050081"/><stop offset="0.2462" stop-color="#00009c"/><stop offset="0.3077" stop-color="#0000c1"/><stop offset="0.4359" stop-color="#0000ec"/><stop offset="0.5641" stop-color="#0019ff"/><stop offset="0.6923" stop-color="#0045ff"/><stop offset="0.7692" stop-color="#006cff"/><stop offset="0.8462" stop-color="#0092ff"/><stop offset="0.9231" stop-color="#00b9ff"/><stop offset="1" stop-color="#00e0ff"/></linearGradient>
<path d="M348.0,471.7 L374.0,473.2 L374.0,478.1 L348.0,476.7 Z" fill="url(#g28)" />
<linearGradient id="g29" gradientUnits="userSpaceOnUse" x1="376" y1="0" x2="402" y2="0"><stop offset="0.0000" stop-color="#48008d"/><stop offset="0.0615" stop-color="#320089"/><stop offset="0.1231" stop-color="#1b0085"/><stop offset="0.1846" stop-color="#050081"/><stop offset="0.2462" stop-color="#00009c"/><stop offset="0.3077" stop-color="#0000c1"/><stop offset="0.4359" stop-color="#0000ec"/><stop offset="0.5641" stop-color="#0019ff"/><stop offset="0.6923" stop-color="#0045ff"/><stop offset="0.7692" stop-color="#006cff"/><stop offset="0.8462" stop-color="#0092ff"/><stop offset="0.9231" stop-color="#00b9ff"/><stop offset="1" stop-color="#00e0ff"/></linearGradient>
<path d="M376.0,477.3 L402.0,478.8 L402.0,485.2 L376.0,482.3 Z" fill="url(#g29)" />
<linearGradient id="g30" gradientUnits="userSpaceOnUse" x1="404" y1="0" x2="430" y2="0"><stop offset="0.0000" stop-color="#48008d"/><stop offset="0.0615" stop-color="#320089"/><stop offset="0.1231" stop-color="#1b0085"/><stop offset="0.1846" stop-color="#050081"/><stop offset="0.2462" stop-color="#00009c"/><stop offset="0.3077" stop-color="#0000c1"/><stop offset="0.4359" stop-color="#0000ec"/><stop offset="0.5641" stop-color="#0019ff"/><stop offset="0.6923" stop-color="#0045ff"/><stop offset="0.7692" stop-color="#006cff"/><stop offset="0.8462" stop-color="#0092ff"/><stop offset="0.9231" stop-color="#00b9ff"/><stop offset="1" stop-color="#00e0ff"/></linearGradient>
<path d="M404.0,484.3 L430.0,485.8 L430.0,491.4 L404.0,489.3 Z" fill="url(#g30)" />
<path d="M290.0,469.5 L330.0,467.5 L345.0,470.5 L345.0,472.3 L319.0,468.6 L290.0,471.0 Z" fill="#0000e8" />
<path d="M96.0,471.6 L225.0,472.0 L263.0,472.6 L290.0,469.6 L290.0,471.0 L263.0,473.8 L225.0,473.2 L96.0,472.8 Z" fill="#0000c1" filter="url(#b05)" />
<linearGradient id="g31" gradientUnits="userSpaceOnUse" x1="380" y1="0" x2="470" y2="0"><stop offset="0.0000" stop-color="#00e0ff"/><stop offset="0.1667" stop-color="#00ffff"/><stop offset="0.5556" stop-color="#00ffff"/><stop offset="0.7778" stop-color="#24ffdb"/><stop offset="1" stop-color="#4fffb0"/></linearGradient>
<path d="M380.0,410.0 L470.0,410.0 L470.0,440.0 L440.0,432.0 L400.0,426.0 L380.0,424.0 Z" fill="url(#g31)" filter="url(#b1)" />
<linearGradient id="g32" gradientUnits="userSpaceOnUse" x1="423" y1="0" x2="700" y2="0"><stop offset="0.0000" stop-color="#00ffff"/><stop offset="0.0307" stop-color="#28ffd7"/><stop offset="0.0614" stop-color="#4fffb0"/><stop offset="0.4946" stop-color="#4fffb0"/><stop offset="0.7834" stop-color="#58ffa7"/><stop offset="0.8412" stop-color="#52ffad"/><stop offset="0.8556" stop-color="#29ffd6"/><stop offset="0.8700" stop-color="#00ffff"/><stop offset="0.8827" stop-color="#00d7ff"/><stop offset="0.8953" stop-color="#00afff"/><stop offset="0.9079" stop-color="#0087ff"/><stop offset="0.9206" stop-color="#005fff"/><stop offset="1" stop-color="#005fff"/></linearGradient>
<path d="M423.0,385.0 L700.0,385.0 L700.0,442.0 L682.0,442.0 L682.0,456.0 L657.0,457.5 L625.0,461.7 L573.0,455.4 L515.0,445.0 L490.0,447.0 L463.0,448.0 L463.0,444.0 L440.0,432.0 L423.0,424.0 Z" fill="url(#g32)" filter="url(#b1)" />
<linearGradient id="g33" gradientUnits="userSpaceOnUse" x1="560" y1="0" x2="821" y2="0"><stop offset="0.0000" stop-color="#4fffb0"/><stop offset="0.3065" stop-color="#58ffa7"/><stop offset="0.4138" stop-color="#79ff86"/><stop offset="0.7854" stop-color="#80ff80"/><stop offset="0.8812" stop-color="#a0ff5f"/><stop offset="1" stop-color="#a7ff58"/></linearGradient>
<path d="M560.0,378.0 L821.0,378.0 L821.0,429.4 L769.0,429.4 L765.0,447.0 L711.0,440.0 L661.0,442.0 L640.0,442.0 L610.0,430.0 L590.0,400.0 L560.0,392.0 Z" fill="url(#g33)" />
<linearGradient id="g34" gradientUnits="userSpaceOnUse" x1="470" y1="0" x2="600" y2="0"><stop offset="0.0000" stop-color="#4fffb0"/><stop offset="0.0615" stop-color="#78ff87"/><stop offset="0.1231" stop-color="#a0ff5f"/><stop offset="0.6923" stop-color="#a0ff5f"/><stop offset="0.9231" stop-color="#80ff80"/><stop offset="1" stop-color="#70ff8f"/></linearGradient>
<path d="M470.0,378.0 L600.0,378.0 L600.0,400.0 L577.0,401.0 L552.0,415.0 L515.0,420.0 L486.0,420.0 L470.0,418.0 Z" fill="url(#g34)" filter="url(#b05)" />
<linearGradient id="g35" gradientUnits="userSpaceOnUse" x1="355" y1="0" x2="470" y2="0"><stop offset="0.0000" stop-color="#ffff00"/><stop offset="0.0435" stop-color="#d0ff2f"/><stop offset="0.0870" stop-color="#a0ff5f"/><stop offset="0.3913" stop-color="#a0ff5f"/><stop offset="0.6522" stop-color="#72ff8d"/><stop offset="1" stop-color="#4fffb0"/></linearGradient>
<path d="M355.0,390.0 L470.0,390.0 L470.0,400.0 L423.0,405.0 L361.0,405.5 L355.0,404.0 Z" fill="url(#g35)" filter="url(#b1)" />
<path d="M284,420 L316,426.2 L332,424" fill="none" stroke="#f0ff30" stroke-width="1.8" filter="url(#b05)"/>
<linearGradient id="g36" gradientUnits="userSpaceOnUse" x1="236" y1="0" x2="384" y2="0"><stop offset="0.0000" stop-color="#00ffff"/><stop offset="0.0135" stop-color="#24ffdb"/><stop offset="0.0270" stop-color="#49ffb6"/><stop offset="0.0405" stop-color="#6dff92"/><stop offset="0.0541" stop-color="#92ff6d"/><stop offset="0.0676" stop-color="#b6ff49"/><stop offset="0.0811" stop-color="#dbff24"/><stop offset="0.0946" stop-color="#ffff00"/><stop offset="0.1054" stop-color="#ffde00"/><stop offset="0.1162" stop-color="#ffbc00"/><stop offset="0.1270" stop-color="#ff9b00"/><stop offset="0.1378" stop-color="#ff7a00"/><stop offset="0.1486" stop-color="#ff5800"/><stop offset="0.4257" stop-color="#ff5800"/><stop offset="0.4730" stop-color="#ff3e00"/><stop offset="0.7365" stop-color="#ff3e00"/><stop offset="0.7500" stop-color="#ff6500"/><stop offset="0.7635" stop-color="#ff8b00"/><stop offset="0.7770" stop-color="#ffb200"/><stop offset="0.7905" stop-color="#ffd800"/><stop offset="0.8041" stop-color="#ffff00"/><stop offset="0.8226" stop-color="#dcff23"/><stop offset="0.8412" stop-color="#b9ff46"/><stop offset="0.8598" stop-color="#96ff69"/><stop offset="0.8784" stop-color="#72ff8d"/><stop offset="0.9088" stop-color="#4effb1"/><stop offset="0.9392" stop-color="#2affd5"/><stop offset="0.9696" stop-color="#06fff9"/><stop offset="1" stop-color="#00e0ff"/></linearGradient>
<path d="M236.0,399.0 L262.0,394.0 L290.0,388.0 L318.0,388.0 L345.0,392.0 L368.0,396.0 L368.0,406.0 L384.0,407.0 L384.0,417.0 L350.0,421.0 L316.0,426.0 L257.5,414.6 L236.0,410.0 Z" fill="url(#g36)" filter="url(#b05)" />
<linearGradient id="g37" gradientUnits="userSpaceOnUse" x1="295" y1="0" x2="368" y2="0"><stop offset="0.0000" stop-color="#ff5800"/><stop offset="0.1370" stop-color="#ff7200"/><stop offset="0.6164" stop-color="#ff8600"/><stop offset="0.6712" stop-color="#ffae00"/><stop offset="0.7260" stop-color="#ffd700"/><stop offset="0.7808" stop-color="#ffff00"/><stop offset="0.8904" stop-color="#d3ff2c"/><stop offset="1" stop-color="#a7ff58"/></linearGradient>
<path d="M295.0,389.0 L318.0,388.0 L345.0,392.0 L368.0,396.0 L368.0,402.0 L322.0,402.0 L300.0,400.0 Z" fill="url(#g37)" />
<linearGradient id="g38" gradientUnits="userSpaceOnUse" x1="322" y1="0" x2="368" y2="0"><stop offset="0.0000" stop-color="#ffff00"/><stop offset="0.1413" stop-color="#d9ff26"/><stop offset="0.2826" stop-color="#b4ff4b"/><stop offset="1" stop-color="#a0ff5f"/></linearGradient>
<path d="M322.0,402.0 L368.0,399.0 L368.0,406.0 L345.0,404.5 Z" fill="url(#g38)" />
<linearGradient id="g39" gradientUnits="userSpaceOnUse" x1="96" y1="0" x2="821" y2="0"><stop offset="0.0000" stop-color="#ffff00"/><stop offset="0.0538" stop-color="#ffff00"/><stop offset="0.0745" stop-color="#ffe800"/><stop offset="0.1159" stop-color="#ffe000"/><stop offset="0.1200" stop-color="#ffb300"/><stop offset="0.1241" stop-color="#ff8600"/><stop offset="0.1278" stop-color="#ff5f00"/><stop offset="0.1315" stop-color="#ff3800"/><stop offset="0.1352" stop-color="#ff1000"/><stop offset="0.1441" stop-color="#e50000"/><stop offset="0.1531" stop-color="#ba0000"/><stop offset="0.1752" stop-color="#c10000"/><stop offset="0.1917" stop-color="#e20000"/><stop offset="0.2400" stop-color="#ef0000"/><stop offset="0.2538" stop-color="#ff2a00"/><stop offset="0.2621" stop-color="#ff4b00"/><stop offset="0.2703" stop-color="#ff6c00"/><stop offset="0.2814" stop-color="#ff9300"/><stop offset="0.3034" stop-color="#ffce00"/><stop offset="0.3490" stop-color="#ffe000"/><stop offset="0.3600" stop-color="#ffff00"/><stop offset="0.3821" stop-color="#dbff24"/><stop offset="0.4979" stop-color="#dbff24"/><stop offset="0.5172" stop-color="#ffff00"/><stop offset="0.5379" stop-color="#ffe000"/><stop offset="0.6400" stop-color="#ffe000"/><stop offset="0.6869" stop-color="#ffef00"/><stop offset="0.6872" stop-color="#e7ff18"/><stop offset="0.6876" stop-color="#c0ff3f"/><stop offset="0.6879" stop-color="#98ff67"/><stop offset="0.6883" stop-color="#70ff8f"/><stop offset="0.8483" stop-color="#70ff8f"/><stop offset="0.8579" stop-color="#91ff6e"/><stop offset="0.8676" stop-color="#b3ff4c"/><stop offset="0.8772" stop-color="#d5ff2a"/><stop offset="1" stop-color="#d5ff2a"/></linearGradient>
<path d="M96.0,378.0 L821.0,378.0 L821.0,411.7 L785.0,411.7 L723.0,401.0 L700.0,400.0 L700.0,378.0 L594.0,378.0 L490.0,393.0 L470.0,394.0 L434.0,396.0 L361.0,396.0 L345.0,394.0 L320.0,391.0 L290.0,389.5 L270.0,392.0 L257.5,400.0 L236.0,399.0 L206.7,396.0 L181.7,397.5 L152.5,401.0 L121.0,408.5 L96.0,408.5 Z" fill="url(#g39)" filter="url(#b05)" />
<linearGradient id="g40" gradientUnits="userSpaceOnUse" x1="96" y1="0" x2="121" y2="0"><stop offset="0.0000" stop-color="#ffff00"/><stop offset="0.1600" stop-color="#d3ff2c"/><stop offset="0.3200" stop-color="#a7ff58"/><stop offset="0.4560" stop-color="#85ff7a"/><stop offset="0.5920" stop-color="#64ff9b"/><stop offset="0.7280" stop-color="#43ffbc"/><stop offset="0.8640" stop-color="#21ffde"/><stop offset="1" stop-color="#00ffff"/></linearGradient>
<path d="M96.0,408.0 L121.0,408.0 L100.0,419.0 L96.0,419.0 Z" fill="url(#g40)" />
<linearGradient id="g41" gradientUnits="userSpaceOnUse" x1="723" y1="0" x2="821" y2="0"><stop offset="0.0000" stop-color="#80ff80"/><stop offset="0.3776" stop-color="#a0ff5f"/><stop offset="1" stop-color="#adff52"/></linearGradient>
<path d="M723.0,401.0 L785.0,411.7 L821.0,411.7 L821.0,429.4 L769.0,429.4 L740.0,415.0 Z" fill="url(#g41)" filter="url(#b1)" />
</g>
<rect x="96.0" y="378.0" width="725.0" height="319.0" fill="none" stroke="#000" stroke-width="1.6"/>
<text x="91" y="382.0" font-size="13.33" text-anchor="end" >0</text>
<text x="89.7" y="449.6" font-size="13.33" text-anchor="end" >25</text>
<text x="89.7" y="517.2" font-size="13.33" text-anchor="end" >50</text>
<text x="89.7" y="584.8" font-size="13.33" text-anchor="end" >75</text>
<text x="89.7" y="652.4000000000001" font-size="13.33" text-anchor="end" >100</text>
<path d="M172.6,378.0 v7 M172.6,697.0 v-7 M295.4,378.0 v7 M295.4,697.0 v-7 M418.2,378.0 v7 M418.2,697.0 v-7 M541.0,378.0 v7 M541.0,697.0 v-7 M663.8,378.0 v7 M663.8,697.0 v-7 M786.6,378.0 v7 M786.6,697.0 v-7 M96.0,445.6 h7 M821.0,445.6 h-7 M96.0,513.2 h7 M821.0,513.2 h-7 M96.0,580.8 h7 M821.0,580.8 h-7 M96.0,648.4 h7 M821.0,648.4 h-7" stroke="#000" stroke-width="0.9" fill="none"/>
<text x="172.6" y="717.5" font-size="13.33" text-anchor="middle" transform="rotate(-10 172.6 717.5) translate(-1.2 6.3)">1970-04-06 16:14</text>
<text x="295.4" y="717.5" font-size="13.33" text-anchor="middle" transform="rotate(-10 295.4 717.5) translate(-1.2 6.3)">1970-04-06 16:14</text>
<text x="418.2" y="717.5" font-size="13.33" text-anchor="middle" transform="rotate(-10 418.2 717.5) translate(-1.2 6.3)">1970-04-06 16:14</text>
<text x="541.0" y="717.5" font-size="13.33" text-anchor="middle" transform="rotate(-10 541.0 717.5) translate(-1.2 6.3)">1970-04-06 16:15</text>
<text x="663.8" y="717.5" font-size="13.33" text-anchor="middle" transform="rotate(-10 663.8 717.5) translate(-1.2 6.3)">1970-04-06 16:15</text>
<text x="786.6" y="717.5" font-size="13.33" text-anchor="middle" transform="rotate(-10 786.6 717.5) translate(-1.2 6.3)">1970-04-06 16:15</text>
<text x="52" y="538" font-size="13.33" text-anchor="middle" transform="rotate(-90 52 538)">depth (m)</text>
<linearGradient id="cbg" x1="0" y1="1" x2="0" y2="0"><stop offset="0.000" stop-color="#b000a0"/><stop offset="0.020" stop-color="#a0009d"/><stop offset="0.040" stop-color="#90009a"/><stop offset="0.060" stop-color="#800097"/><stop offset="0.080" stop-color="#700094"/><stop offset="0.100" stop-color="#600091"/><stop offset="0.120" stop-color="#50008f"/><stop offset="0.140" stop-color="#40008c"/><stop offset="0.160" stop-color="#300089"/><stop offset="0.180" stop-color="#200086"/><stop offset="0.200" stop-color="#100083"/><stop offset="0.220" stop-color="#000080"/><stop offset="0.240" stop-color="#00009a"/><stop offset="0.260" stop-color="#0000b4"/><stop offset="0.280" stop-color="#0000ce"/><stop offset="0.300" stop-color="#0000e8"/><stop offset="0.320" stop-color="#0003ff"/><stop offset="0.340" stop-color="#001dff"/><stop offset="0.360" stop-color="#0038ff"/><stop offset="0.380" stop-color="#0052ff"/><stop offset="0.400" stop-color="#006cff"/><stop offset="0.420" stop-color="#0086ff"/><stop offset="0.440" stop-color="#00a0ff"/><stop offset="0.460" stop-color="#00baff"/><stop offset="0.480" stop-color="#00d4ff"/><stop offset="0.500" stop-color="#00efff"/><stop offset="0.520" stop-color="#0afff5"/><stop offset="0.540" stop-color="#24ffdb"/><stop offset="0.560" stop-color="#3effc1"/><stop offset="0.580" stop-color="#58ffa7"/><stop offset="0.600" stop-color="#72ff8d"/><stop offset="0.620" stop-color="#8dff72"/><stop offset="0.640" stop-color="#a7ff58"/><stop offset="0.660" stop-color="#c1ff3e"/><stop offset="0.680" stop-color="#dbff24"/><stop offset="0.700" stop-color="#f5ff0a"/><stop offset="0.720" stop-color="#ffef00"/><stop offset="0.740" stop-color="#ffd500"/><stop offset="0.760" stop-color="#ffba00"/><stop offset="0.780" stop-color="#ffa000"/><stop offset="0.800" stop-color="#ff8600"/><stop offset="0.820" stop-color="#ff6c00"/><stop offset="0.840" stop-color="#ff5200"/><stop offset="0.860" stop-color="#ff3800"/><stop offset="0.880" stop-color="#ff1d00"/><stop offset="0.900" stop-color="#ff0300"/><stop offset="0.920" stop-color="#e80000"/><stop offset="0.940" stop-color="#ce0000"/><stop offset="0.960" stop-color="#b40000"/><stop offset="0.980" stop-color="#9a0000"/><stop offset="1.000" stop-color="#800000"/></linearGradient>
<rect x="840.0" y="392.4" width="24.299999999999955" height="290.0" fill="url(#cbg)"/>
<path d="M840.0,393.0 L840.0,392.4 L852.15,377.6 L864.3,392.4 L864.3,393.0 Z" fill="#800000"/>
<path d="M840.0,681.8 L840.0,682.4 L852.15,697.2 L864.3,682.4 L864.3,681.8 Z" fill="#b000a0"/>
<path d="M840.0,392.4 L852.15,377.6 L864.3,392.4 L864.3,682.4 L852.15,697.2 L840.0,682.4 Z" fill="none" stroke="#000" stroke-width="1.6" stroke-linejoin="miter"/>
<path d="M864.3,392.4 h-6 M864.3,682.4 h-6" stroke="#000" stroke-width="0.8"/>
<text x="871.6" y="395.8" font-size="13.33" text-anchor="start" >2.66</text>
<text x="871.6" y="685.6" font-size="13.33" text-anchor="start" >0.22</text>
<text x="915" y="539" font-size="13.33" text-anchor="middle" transform="rotate(-90 915 539) translate(0 4)">(ug/l)</text>
<clipPath id="sclip"><rect x="96.0" y="761.0" width="725.0" height="319.0"/></clipPath>
<g clip-path="url(#sclip)">
<circle cx="96.8" cy="761.6" r="1.9" fill="#fffc00"/>
<circle cx="152.8" cy="761.7" r="1.9" fill="#ffef00"/>
<circle cx="231.9" cy="761.5" r="1.9" fill="#ba0000"/>
<circle cx="240.8" cy="763.0" r="1.9" fill="#ef0000"/>
<circle cx="289.2" cy="782.6" r="1.9" fill="#ff5800"/>
<circle cx="311.1" cy="782.8" r="1.9" fill="#ff6c00"/>
<circle cx="320.0" cy="785.7" r="1.9" fill="#ff4500"/>
<circle cx="188.2" cy="803.6" r="1.9" fill="#00a0ff"/>
<circle cx="210.0" cy="798.4" r="1.9" fill="#0afff5"/>
<circle cx="267.3" cy="818.0" r="1.9" fill="#2bffd4"/>
<circle cx="306.9" cy="887.8" r="1.9" fill="#680093"/>
<circle cx="258.5" cy="893.5" r="1.9" fill="#98009c"/>
<circle cx="249.6" cy="899.9" r="1.9" fill="#a0009d"/>
<circle cx="293.6" cy="905.6" r="1.9" fill="#a0009d"/>
<circle cx="179.3" cy="908.9" r="1.9" fill="#a8009f"/>
<circle cx="328.8" cy="940.9" r="1.9" fill="#a8009f"/>
<circle cx="333.2" cy="948.7" r="1.9" fill="#a8009f"/>
<circle cx="170.5" cy="969.5" r="1.9" fill="#a8009f"/>
<circle cx="280.4" cy="993.2" r="1.9" fill="#a8009f"/>
<circle cx="196.8" cy="1019.0" r="1.9" fill="#a8009f"/>
<circle cx="223.3" cy="1015.9" r="1.9" fill="#a8009f"/>
<circle cx="341.7" cy="775.8" r="1.9" fill="#ffd500"/>
<circle cx="363.9" cy="779.4" r="1.9" fill="#a0ff5f"/>
<circle cx="399.0" cy="761.7" r="1.9" fill="#e8ff17"/>
<circle cx="535.2" cy="761.7" r="1.9" fill="#ffe200"/>
<circle cx="390.4" cy="820.0" r="1.9" fill="#00e2ff"/>
<circle cx="412.3" cy="809.1" r="1.9" fill="#00ffff"/>
<circle cx="438.6" cy="801.3" r="1.9" fill="#4bffb4"/>
<circle cx="548.5" cy="778.6" r="1.9" fill="#a7ff58"/>
<circle cx="574.8" cy="812.2" r="1.9" fill="#52ffad"/>
<circle cx="552.7" cy="852.3" r="1.9" fill="#002aff"/>
<circle cx="565.9" cy="878.6" r="1.9" fill="#0000db"/>
<circle cx="350.8" cy="941.1" r="1.9" fill="#a8009f"/>
<circle cx="359.4" cy="946.9" r="1.9" fill="#a8009f"/>
<circle cx="381.3" cy="1027.1" r="1.9" fill="#a8009f"/>
<circle cx="425.3" cy="1015.6" r="1.9" fill="#a8009f"/>
<circle cx="601.3" cy="823.7" r="1.9" fill="#31ffce"/>
<circle cx="614.3" cy="803.1" r="1.9" fill="#52ffad"/>
<circle cx="636.4" cy="801.3" r="1.9" fill="#5fffa0"/>
<circle cx="671.6" cy="781.8" r="1.9" fill="#72ff8d"/>
<circle cx="706.7" cy="800.0" r="1.9" fill="#8dff72"/>
<circle cx="759.6" cy="819.0" r="1.9" fill="#93ff6c"/>
<circle cx="768.2" cy="802.3" r="1.9" fill="#adff52"/>
<circle cx="781.5" cy="784.1" r="1.9" fill="#dbff24"/>
<circle cx="820.0" cy="797.7" r="1.9" fill="#b4ff4b"/>
<circle cx="592.7" cy="863.8" r="1.9" fill="#0000e8"/>
<circle cx="667.1" cy="867.4" r="1.9" fill="#0038ff"/>
<circle cx="724.4" cy="840.9" r="1.9" fill="#005fff"/>
<circle cx="746.3" cy="834.1" r="1.9" fill="#00ffff"/>
<circle cx="737.4" cy="856.5" r="1.9" fill="#001dff"/>
<circle cx="790.3" cy="841.1" r="1.9" fill="#005fff"/>
<circle cx="807.8" cy="824.7" r="1.9" fill="#00baff"/>
<circle cx="798.9" cy="864.3" r="1.9" fill="#100083"/>
</g>
<rect x="96.0" y="761.0" width="725.0" height="319.0" fill="none" stroke="#000" stroke-width="1.6"/>
<text x="262.1" y="1098" font-size="13.33" text-anchor="middle" >10000</text>
<text x="434.4" y="1098" font-size="13.33" text-anchor="middle" >15000</text>
<text x="606.6" y="1098" font-size="13.33" text-anchor="middle" >20000</text>
<text x="777.5" y="1098" font-size="13.33" text-anchor="middle" >25000</text>
<text x="91" y="765.0" font-size="13.33" text-anchor="end" >0</text>
<text x="89.7" y="832.6" font-size="13.33" text-anchor="end" >25</text>
<text x="89.7" y="900.2" font-size="13.33" text-anchor="end" >50</text>
<text x="89.7" y="967.8" font-size="13.33" text-anchor="end" >75</text>
<text x="89.7" y="1035.4" font-size="13.33" text-anchor="end" >100</text>
<path d="M262.1,761.0 v7 M262.1,1080.0 v-7 M434.4,761.0 v7 M434.4,1080.0 v-7 M606.6,761.0 v7 M606.6,1080.0 v-7 M777.5,761.0 v7 M777.5,1080.0 v-7 M96.0,828.6 h7 M821.0,828.6 h-7 M96.0,896.2 h7 M821.0,896.2 h-7 M96.0,963.8 h7 M821.0,963.8 h-7 M96.0,1031.4 h7 M821.0,1031.4 h-7" stroke="#000" stroke-width="0.9" fill="none"/>
<text x="52" y="921" font-size="13.33" text-anchor="middle" transform="rotate(-90 52 921)">depth (m)</text>
<text x="783.8" y="1070.6" font-size="13.33" text-anchor="end" >bin_mean_mass_concentration_of_chlorophyll_in_sea_water</text>
<text x="821" y="1121.7" font-size="20" text-anchor="end" >+1.4847e9</text>
<rect x="840.0" y="761.0" width="24.200000000000045" height="319.0" fill="#fff" stroke="#000" stroke-width="1.6"/>
<text x="832.2" y="1085.5" font-size="20" text-anchor="end" >0.0</text>
<text x="840.0" y="1102.3" font-size="20" text-anchor="middle" >0.0</text>
<text x="832.2" y="1020.8000000000001" font-size="20" text-anchor="end" >0.2</text>
<text x="844.8" y="1102.3" font-size="20" text-anchor="middle" >0.2</text>
<text x="832.2" y="957.0" font-size="20" text-anchor="end" >0.4</text>
<text x="849.7" y="1102.3" font-size="20" text-anchor="middle" >0.4</text>
<text x="832.2" y="893.2" font-size="20" text-anchor="end" >0.6</text>
<text x="854.5" y="1102.3" font-size="20" text-anchor="middle" >0.6</text>
<text x="832.2" y="829.4" font-size="20" text-anchor="end" >0.8</text>
<text x="859.4" y="1102.3" font-size="20" text-anchor="middle" >0.8</text>
<text x="832.2" y="765.6" font-size="20" text-anchor="end" >1.0</text>
<text x="864.2" y="1102.3" font-size="20" text-anchor="middle" >1.0</text>
<path d="M840.0,1016.2 h7 M864.2,1016.2 h-7 M844.8,761.0 v7 M844.8,1080.0 v-7 M840.0,952.4 h7 M864.2,952.4 h-7 M849.7,761.0 v7 M849.7,1080.0 v-7 M840.0,888.6 h7 M864.2,888.6 h-7 M854.5,761.0 v7 M854.5,1080.0 v-7 M840.0,824.8 h7 M864.2,824.8 h-7 M859.4,761.0 v7 M859.4,1080.0 v-7" stroke="#000" stroke-width="0.9" fill="none"/>
</svg>
</body></html>
